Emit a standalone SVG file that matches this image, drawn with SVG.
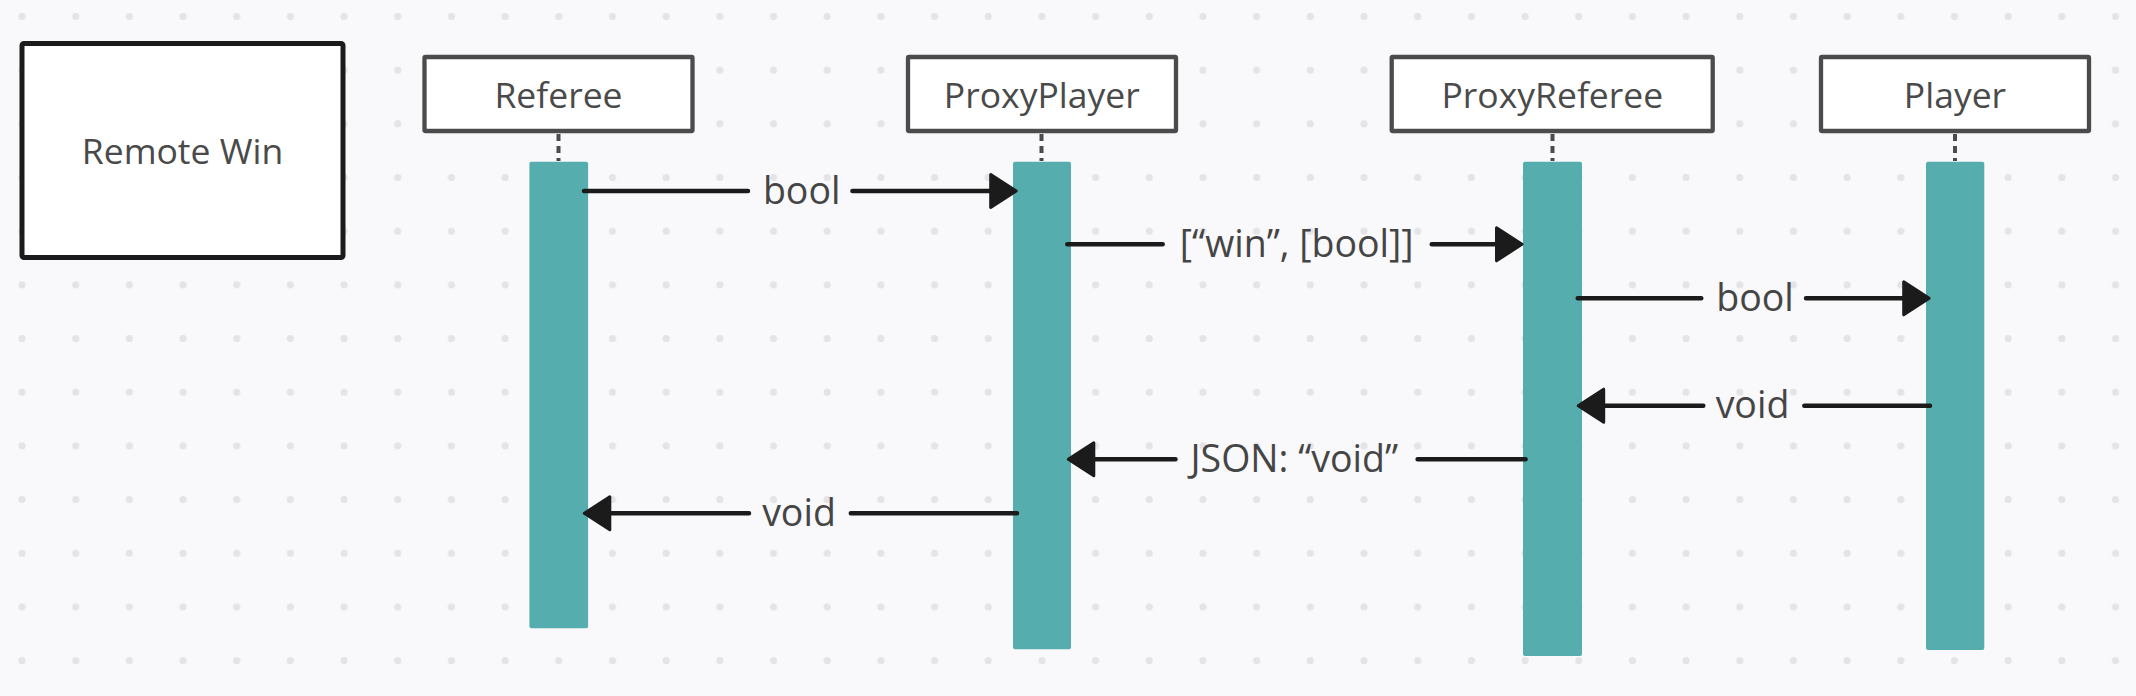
<svg xmlns="http://www.w3.org/2000/svg" width="2136" height="696" viewBox="0 0 2136 696">
<defs>
<pattern id="dots" patternUnits="userSpaceOnUse" x="0" y="0" width="53.68" height="53.68">
<circle cx="22" cy="16.4" r="3.6" fill="#e4e4e8"/>
</pattern>
<marker id="head" markerUnits="userSpaceOnUse" markerWidth="40" markerHeight="44" viewBox="-4 -22 40 44" refX="17" refY="0" orient="auto">
<path d="M0,-16.5 L25.5,0 L0,16.5 Z" fill="#1b1b1b" stroke="#1b1b1b" stroke-width="3" stroke-linejoin="round"/>
</marker>
<style>
.title{font-family:"Open Sans","Noto Sans","DejaVu Sans",sans-serif;font-size:35.5px;fill:#4a4a4a;text-anchor:middle}
.label{font-family:"Open Sans","Noto Sans","DejaVu Sans",sans-serif;font-size:37.5px;fill:#454545;text-anchor:middle}
.box{fill:#ffffff;stroke:#4b4b4b;stroke-width:4.3}
.bar{fill:#56adad}
.life{stroke:#4b4b4b;stroke-width:4;stroke-dasharray:7 5;fill:none}
.msg{stroke:#1b1b1b;stroke-width:4.5;stroke-linecap:round;fill:none}
</style>
</defs>
<rect width="2136" height="696" fill="#f9f9fb"/>
<rect width="2136" height="696" fill="url(#dots)"/>

<g id="remote-win">
<rect x="22" y="43.5" width="321" height="214" rx="2" fill="#ffffff" stroke="#1b1b1b" stroke-width="5"/>
<text class="title" x="182.5" y="164">Remote Win</text>
</g>

<g id="referee">
<rect class="box" x="424.5" y="57" width="268" height="74" rx="1"/>
<text class="title" x="558.5" y="107.5">Referee</text>
<line class="life" x1="558.5" y1="134" x2="558.5" y2="161"/>
<rect class="bar" x="529.4" y="161.7" width="58.7" height="466.6" rx="2"/>
</g>

<g id="proxyplayer">
<rect class="box" x="908" y="57" width="268" height="74" rx="1"/>
<text class="title" x="1041.8" y="107.5">ProxyPlayer</text>
<line class="life" x1="1041.5" y1="134" x2="1041.5" y2="161"/>
<rect class="bar" x="1013" y="161.7" width="58" height="487.6" rx="2"/>
</g>

<g id="proxyreferee">
<rect class="box" x="1391.7" y="57" width="321" height="74" rx="1"/>
<text class="title" x="1552.3" y="107.5">ProxyReferee</text>
<line class="life" x1="1552.5" y1="134" x2="1552.5" y2="161"/>
<rect class="bar" x="1523" y="161.7" width="59" height="494.3" rx="2"/>
</g>

<g id="player">
<rect class="box" x="1821" y="57" width="268" height="74" rx="1"/>
<text class="title" x="1955" y="107.5">Player</text>
<line class="life" x1="1955" y1="134" x2="1955" y2="161"/>
<rect class="bar" x="1926" y="161.7" width="58.3" height="488.3" rx="2"/>
</g>

<g id="connectors">
<path class="msg" d="M584,191 L748,191 M852.4,191 L1007.7,191" marker-end="url(#head)"/>
<text class="label" x="801.7" y="203.5">bool</text>

<path class="msg" d="M1067.3,244.3 L1162.7,244.3 M1431.7,244.3 L1513.5,244.3" marker-end="url(#head)"/>
<text class="label" x="1296.7" y="256.8">[“win”, [bool]]</text>

<path class="msg" d="M1577.7,298.3 L1701.3,298.3 M1806,298.3 L1920.7,298.3" marker-end="url(#head)"/>
<text class="label" x="1755" y="310.8">bool</text>

<path class="msg" d="M1930,405.7 L1804.3,405.7 M1703.3,405.7 L1586.7,405.7" marker-end="url(#head)"/>
<text class="label" x="1752.5" y="418.2">void</text>

<path class="msg" d="M1525.6,459.3 L1417.6,459.3 M1175.5,459.3 L1076.8,459.3" marker-end="url(#head)"/>
<text class="label" x="1294.3" y="471.8">JSON: “void”</text>

<path class="msg" d="M1017,513.3 L850.8,513.3 M749,513.3 L592.8,513.3" marker-end="url(#head)"/>
<text class="label" x="799" y="525.8">void</text>
</g>
</svg>
